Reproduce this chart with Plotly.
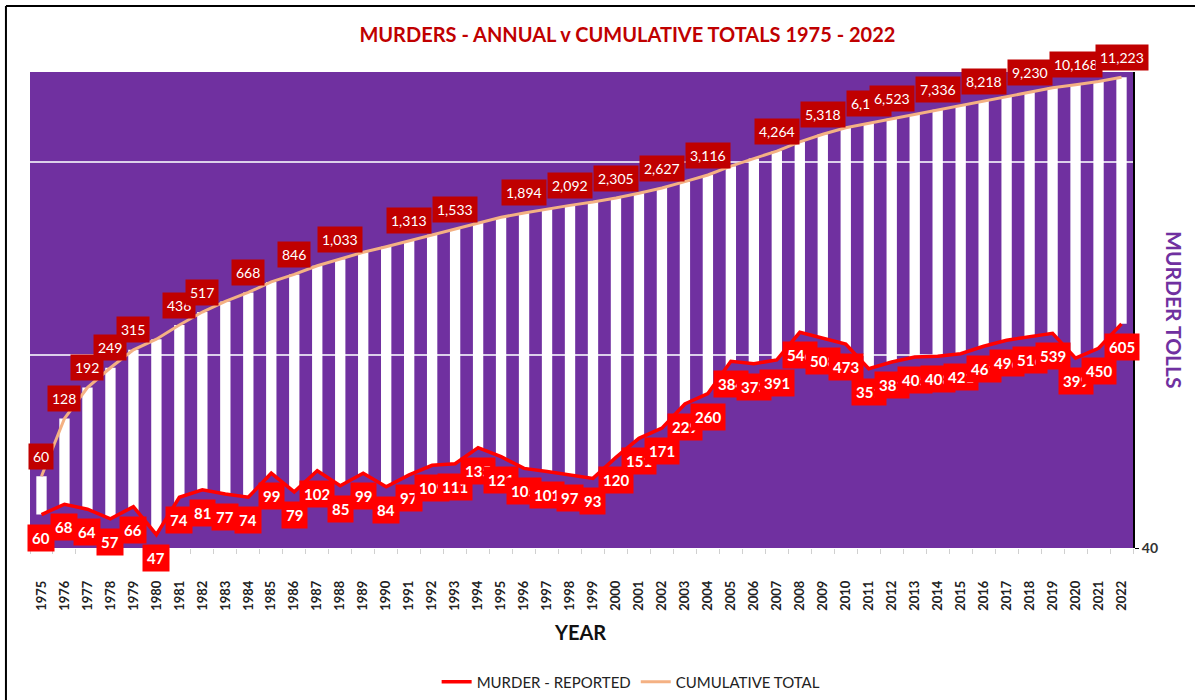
import math
import plotly.graph_objects as go

# ---------------- data ----------------
years = list(range(1975, 2023))
annual = [60, 68, 64, 57, 66, 47, 74, 81, 77, 74,
          99, 79, 102, 85, 99, 84, 97, 109, 111, 135,
          121, 105, 101, 97, 93, 120, 151, 171, 229, 260,
          384, 373, 391, 546, 508, 473, 351, 381, 405, 408,
          421, 461, 496, 516, 539, 399, 450, 605]
cumulative = [60, 128, 192, 249, 315, 362, 436, 517, 594, 668,
              767, 846, 948, 1033, 1132, 1216, 1313, 1422, 1533, 1668,
              1789, 1894, 1995, 2092, 2185, 2305, 2456, 2627, 2856, 3116,
              3500, 3873, 4264, 4810, 5318, 5791, 6142, 6523, 6928, 7336,
              7757, 8218, 8714, 9230, 9769, 10168, 10618, 11223]
cum_label_years = [1975, 1976, 1977, 1978, 1979, 1981, 1982, 1984, 1986, 1988,
                   1991, 1993, 1996, 1998, 2000, 2002, 2004, 2007, 2009, 2011,
                   2012, 2014, 2016, 2018, 2020, 2022]

FONT = "Lato"
PURPLE = "#7030A0"
RED = "#FF0000"
DARKRED = "#C00000"
TAN = "#F4B183"

fig = go.Figure()

# white cumulative columns (left, hidden log axis)
fig.add_trace(go.Bar(x=years, y=cumulative, yaxis="y", width=0.45,
                     marker=dict(color="white", line=dict(width=0)),
                     showlegend=False, hoverinfo="skip"))
# cumulative line
fig.add_trace(go.Scatter(x=years, y=cumulative, yaxis="y", mode="lines",
                         line=dict(color=TAN, width=3),
                         name="CUMULATIVE TOTAL"))

# purple area under the annual line (right log axis)
area_x = [years[0] - 0.5] + years + [years[-1] + 0.5]
area_y = [annual[0]] + annual + [annual[-1]]
fig.add_trace(go.Scatter(x=area_x, y=[40] * len(area_x), yaxis="y2", mode="lines",
                         line=dict(width=0, color=PURPLE), showlegend=False,
                         hoverinfo="skip"))
fig.add_trace(go.Scatter(x=area_x, y=area_y, yaxis="y2", mode="lines",
                         line=dict(width=0, color=PURPLE), fill="tonexty",
                         fillcolor=PURPLE, showlegend=False, hoverinfo="skip"))
# annual red line
fig.add_trace(go.Scatter(x=years, y=annual, yaxis="y2", mode="lines",
                         line=dict(color=RED, width=3.5),
                         name="MURDER - REPORTED"))

annotations = []
# annual labels
for yr, v in zip(years, annual):
    annotations.append(dict(x=yr, y=math.log10(v), xref="x", yref="y2",
                            text="<b>%d</b>" % v, showarrow=False, yshift=-23,
                            bgcolor=RED, borderpad=4,
                            font=dict(family=FONT, size=15, color="white")))
# cumulative labels
for yr in cum_label_years:
    v = cumulative[years.index(yr)]
    annotations.append(dict(x=yr, y=math.log10(v), xref="x", yref="y",
                            text=f"{v:,}", showarrow=False, yshift=20,
                            bgcolor=DARKRED, borderpad=4,
                            font=dict(family=FONT, size=14, color="white")))
# axis titles
annotations.append(dict(x=0.4986, y=-0.176, xref="paper", yref="paper",
                        xanchor="center", yanchor="middle",
                        text="<b>YEAR</b>", showarrow=False,
                        font=dict(family=FONT, size=20, color="#111")))
annotations.append(dict(x=1.038, y=0.5, xref="paper", yref="paper",
                        xanchor="center", yanchor="middle",
                        text="<b>MURDER TOLLS</b>", showarrow=False, textangle=90,
                        font=dict(family=FONT, size=21, color=PURPLE)))

fig.update_layout(
    template="none",
    width=1195, height=700,
    margin=dict(l=30, r=62, t=72, b=152, autoexpand=False),
    paper_bgcolor="white", plot_bgcolor=PURPLE,
    font=dict(family=FONT, color="#222"),
    title=dict(text="<b>MURDERS - ANNUAL v CUMULATIVE TOTALS 1975 - 2022</b>",
               x=0.525, xanchor="center", y=0.95, yanchor="middle",
               font=dict(family=FONT, size=20, color=DARKRED)),
    bargap=0.5,
    xaxis=dict(range=[1974.5, 2022.5], tickmode="array", tickvals=years,
               ticktext=["<b>%d</b>" % y for y in years], tickangle=-90,
               tickfont=dict(family=FONT, size=13, color="#222"),
               showgrid=False, zeroline=False, showline=False, ticks="",
               ticklabelstandoff=29, automargin=False,
               minor=dict(ticks="outside", dtick=1, tick0=1974.5, ticklen=5,
                          tickcolor="#d0d0d0", showgrid=False)),
    yaxis=dict(type="log", range=[1.37, 4.08], showticklabels=False,
               tickmode="array", tickvals=[294, 3715], showgrid=True,
               gridcolor="#DCD0EA", gridwidth=1.5, zeroline=False, showline=False,
               automargin=False),
    yaxis2=dict(type="log", overlaying="y", side="right",
                range=[math.log10(40), math.log10(40) + 2.505],
                tickmode="array", tickvals=[40], ticktext=["<b>40</b>"],
                ticks="outside", ticklen=4, tickcolor="black",
                tickfont=dict(family=FONT, size=14, color="#333"),
                showgrid=False, zeroline=False, showline=True,
                linecolor="black", linewidth=2, automargin=False),
    legend=dict(orientation="h", x=0.545, xanchor="center", y=-0.2815,
                yanchor="middle", traceorder="reversed",
                font=dict(family=FONT, size=15, color="#222"),
                bgcolor="rgba(0,0,0,0)"),
    annotations=annotations,
    shapes=[
        dict(type="line", xref="paper", yref="paper", x0=-0.0218, x1=1.06,
             y0=1.1387, y1=1.1387, line=dict(color="black", width=2)),
        dict(type="line", xref="paper", yref="paper", x0=-0.0218, x1=-0.0218,
             y0=-0.32, y1=1.1387, line=dict(color="black", width=2)),
    ],
)

fig.write_html("out.html")
